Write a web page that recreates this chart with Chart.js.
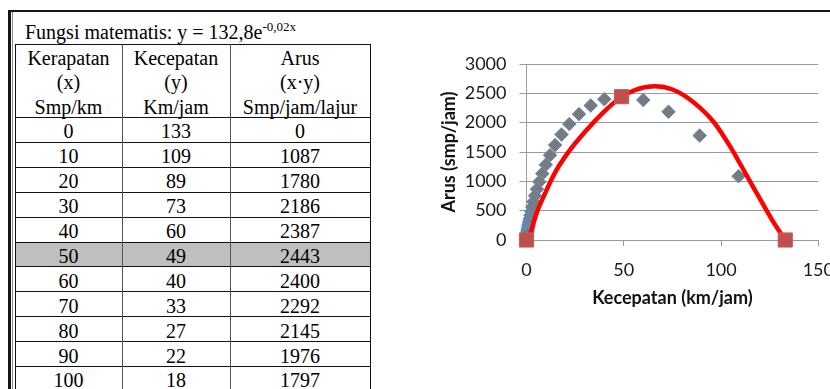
<!DOCTYPE html>
<html>
<head>
<meta charset="utf-8">
<script src="https://cdn.jsdelivr.net/npm/chart.js@4.4.1/dist/chart.umd.min.js"></script>
<style>
  html, body { margin: 0; padding: 0; background: #fff; overflow: hidden; width: 830px; height: 389px; }
  .rule { position: absolute; background: #000; }
  #sheet { position: absolute; left: 0; top: 0; width: 830px; height: 389px;
           font-family: "Liberation Serif", "Times New Roman", serif; font-size: 20px; color: #000; }
  .cell { position: absolute; box-sizing: border-box; display: flex; align-items: center;
          justify-content: center; padding-top: 4px; white-space: nowrap; line-height: 20px; }
  .head { position: absolute; text-align: center; line-height: 24.3px; white-space: nowrap; }
  #formula { position: absolute; left: 25px; top: 22px; line-height: 20px; white-space: nowrap; }
  #formula sup { font-size: 13px; position: relative; top: -8px; vertical-align: baseline; }
  #chartBox { position: absolute; left: 420px; top: 40px; width: 427px; height: 280px; }
</style>
</head>
<body>
<div id="sheet">
  <div class="rule" style="left:8px;top:10px;width:830px;height:2px;background:#151515"></div>
  <div class="rule" style="left:8px;top:10px;width:3px;height:390px;background:#151515"></div>
  <div class="rule" style="left:12px;top:12px;width:1px;height:390px;background:#8a8a8a"></div>
  <div id="formula">Fungsi matematis: y = 132,8e<sup>-0,02x</sup></div>
</div>
<div id="chartBox"><canvas id="c" width="427" height="280"></canvas></div>

<script>
// Table columns
const headerLines = [
  ["Kerapatan", "(x)", "Smp/km"],
  ["Kecepatan", "(y)", "Km/jam"],
  ["Arus", "(x\u00b7y)", "Smp/jam/lajur"]
];
const tableDensity = [0, 10, 20, 30, 40, 50, 60, 70, 80, 90, 100];
const tableSpeed   = [133, 109, 89, 73, 60, 49, 40, 33, 27, 22, 18];
const tableFlow    = [0, 1087, 1780, 2186, 2387, 2443, 2400, 2292, 2145, 1976, 1797];
const highlightDensity = 50;

// Scatter of observed speed / flow pairs
const obsSpeed = [133, 109, 89, 73, 60, 49, 40, 33, 27, 22, 18, 14.7, 12.1, 9.9, 8.1, 6.6, 5.4, 4.4, 3.6, 3.0, 2.4, 2.0, 1.6, 1.3, 1.1, 0.9, 0.7, 0.6, 0.5, 0.4, 0.3];
const obsFlow  = [0, 1087, 1780, 2186, 2387, 2443, 2400, 2292, 2145, 1976, 1797, 1618, 1446, 1282, 1131, 992, 866, 754, 653, 564, 486, 418, 359, 307, 262, 224, 191, 162, 138, 117, 99];

// Fitted flow curve
const fitSpeed = [0, 2, 5, 10, 15, 22, 31, 39, 48, 56, 66, 75, 85, 96, 104, 113, 120, 127, 133];
const fitFlow  = [0, 120, 440, 830, 1170, 1520, 1880, 2160, 2420, 2560, 2620, 2565, 2370, 2020, 1630, 1110, 700, 300, 0];

// Key points: jam, capacity, free flow
const keySpeed = [0, 48.9, 133];
const keyFlow  = [0, 2443, 0];

const xTicks = [0, 50, 100, 150];
const yTicks = [0, 500, 1000, 1500, 2000, 2500, 3000];

// ---------- table ----------
const sheet = document.getElementById('sheet');
const colX = [15, 122, 230, 370];
const headTop = 44, headBottom = 117, rowH = 24.9;

function addDiv(cls, style, text) {
  const d = document.createElement('div');
  if (cls) d.className = cls;
  d.setAttribute('style', style);
  if (text !== undefined) d.textContent = text;
  sheet.appendChild(d);
  return d;
}

// highlighted row background
tableDensity.forEach((k, i) => {
  if (k === highlightDensity) {
    const top = headBottom + i * rowH;
    addDiv('rule', `left:${colX[0]}px;top:${top}px;width:${colX[3] - colX[0]}px;height:${rowH}px;background:#bfbfbf`);
  }
});

// header text
headerLines.forEach((lines, c) => {
  const d = addDiv('head', `left:${colX[c]}px;top:${headTop + 2}px;width:${colX[c + 1] - colX[c]}px`);
  d.innerHTML = lines.join('<br>');
});

// body text
tableDensity.forEach((k, i) => {
  const top = headBottom + i * rowH;
  [k, tableSpeed[i], tableFlow[i]].forEach((v, c) => {
    addDiv('cell', `left:${colX[c]}px;top:${top}px;width:${colX[c + 1] - colX[c]}px;height:${rowH}px`, String(v));
  });
});

// grid rules
const rowLines = [headTop, headBottom];
tableDensity.forEach((k, i) => rowLines.push(Math.round(headBottom + (i + 1) * rowH)));
rowLines.forEach(y => {
  addDiv('rule', `left:${colX[0]}px;top:${Math.round(y)}px;width:${colX[3] - colX[0] + 1}px;height:1px;background:#111`);
});
colX.forEach((x, c) => {
  const col = (c === 0 || c === 3) ? '#111' : '#555';
  addDiv('rule', `left:${x}px;top:${headTop}px;width:1px;height:${400 - headTop}px;background:${col}`);
});

// ---------- chart ----------
const toPts = (xs, ys) => xs.map((x, i) => ({ x: x, y: ys[i] }));
const tickFont = { family: 'Lato, "Open Sans", sans-serif', size: 18 };
const titleFont = { family: 'Lato, "Open Sans", sans-serif', size: 18, weight: 'bold' };
const gridColor = '#9a9a9a';
const plainNumber = v => String(v);

new Chart(document.getElementById('c'), {
  type: 'scatter',
  data: {
    datasets: [
      {
        label: 'Titik kunci',
        data: toPts(keySpeed, keyFlow),
        pointStyle: 'rect',
        pointRadius: 10,
        backgroundColor: '#c0504d',
        borderColor: '#c65b58',
        borderWidth: 1,
        order: 0,
        clip: false
      },
      {
        label: 'Kurva',
        type: 'line',
        data: toPts(fitSpeed, fitFlow),
        borderColor: '#ff0000',
        borderWidth: 4.5,
        pointRadius: 0,
        cubicInterpolationMode: 'monotone',
        fill: false,
        order: 1,
        clip: false
      },
      {
        label: 'Data',
        data: toPts(obsSpeed, obsFlow),
        pointStyle: 'rectRot',
        pointRadius: 6.8,
        backgroundColor: '#7a7a7a',
        borderColor: '#5a8fd0',
        borderWidth: 1,
        order: 2,
        clip: false
      }
    ]
  },
  options: {
    responsive: false,
    animation: false,
    events: [],
    layout: { padding: { top: 24, right: 22, left: 0, bottom: 0 } },
    plugins: { legend: { display: false }, tooltip: { enabled: false } },
    scales: {
      x: {
        type: 'linear',
        min: xTicks[0],
        max: xTicks[xTicks.length - 1],
        afterBuildTicks: s => { s.ticks = xTicks.map(v => ({ value: v })); },
        ticks: { font: tickFont, color: '#1a1a1a', padding: 13, maxRotation: 0, autoSkip: false, callback: plainNumber },
        grid: { drawOnChartArea: false, drawTicks: true, tickLength: 6, color: gridColor },
        border: { display: true, color: gridColor },
        title: { display: true, text: 'Kecepatan (km/jam)', font: titleFont, color: '#111', padding: { top: 4, bottom: 11 } },
        afterFit: s => { s.height = 80; }
      },
      y: {
        type: 'linear',
        min: yTicks[0],
        max: yTicks[yTicks.length - 1],
        afterBuildTicks: s => { s.ticks = yTicks.map(v => ({ value: v })); },
        ticks: { font: tickFont, color: '#1a1a1a', padding: 13, autoSkip: false, callback: plainNumber },
        grid: { color: gridColor, tickLength: 7 },
        border: { display: true, color: gridColor },
        title: { display: true, text: 'Arus (smp/jam)', font: titleFont, color: '#111', padding: { top: 18, bottom: 4 } },
        afterFit: s => { s.width = 106.5; }
      }
    }
  }
});
</script>
</body>
</html>
